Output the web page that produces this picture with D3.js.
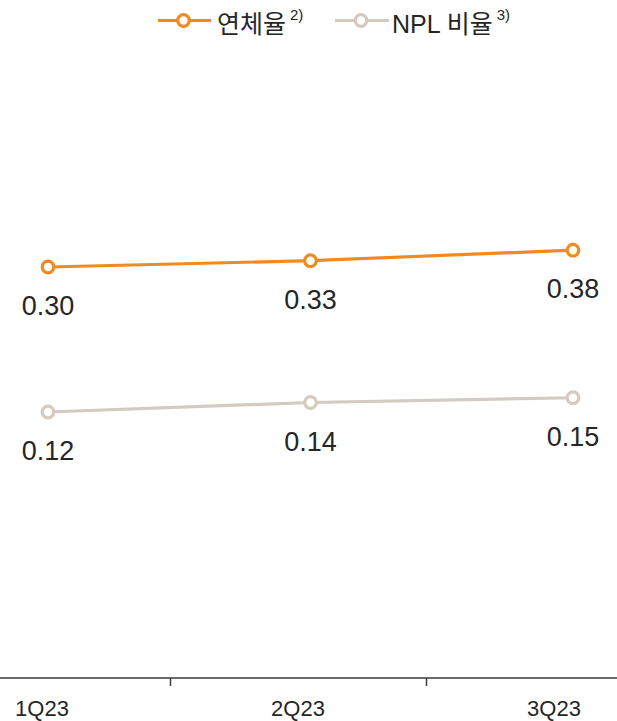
<!DOCTYPE html>
<html>
<head>
<meta charset="utf-8">
<script src="https://cdn.jsdelivr.net/npm/d3@7"></script>
<style>
  html, body { margin: 0; padding: 0; background: #fff; }
  svg { display: block; }
  .num { font-family: "Liberation Sans", Arial, Helvetica, sans-serif; }
  .kr { font-family: "Liberation Sans", "Noto Sans CJK KR", sans-serif; }
</style>
</head>
<body>
<svg id="chart" width="617" height="721"></svg>
<script>
// Quarters on the x axis
const quarters = ["1Q23", "2Q23", "3Q23"];
// Delinquency ratio (%)
const delinquency = [0.30, 0.33, 0.38];
// NPL ratio (%)
const nplRatio = [0.12, 0.14, 0.15];
// Legend entries
const seriesNames = ["연체율", "NPL 비율"];
const seriesNotes = ["2)", "3)"];
const seriesColors = ["#F08A23", "#D5CAC0"];

const W = 617, H = 721;
const svg = d3.select("#chart");

// Category scales: bands for the axis, points for the line vertices
const xBand = d3.scaleBand().domain(quarters).range([-86, 682]);
const xPoint = d3.scalePoint().domain(quarters).range([48, 573]);

// Each series is drawn on its own value scale
const yDelinq = d3.scaleLinear().domain([0.20, 0.50]).range([288, 225]);
const yNpl = d3.scaleLinear().domain([0.10, 0.20]).range([421.5, 374]);

// Bottom axis
const axisY = 678;
svg.append("line")
  .attr("x1", 0).attr("x2", W)
  .attr("y1", axisY).attr("y2", axisY)
  .attr("stroke", "#3a3a3a").attr("stroke-width", 1.5);

// Separators between quarter bands
quarters.slice(1).forEach(q => {
  const x = Math.round(xBand(q)) + 0.5;
  svg.append("line")
    .attr("x1", x).attr("x2", x)
    .attr("y1", axisY).attr("y2", axisY + 8)
    .attr("stroke", "#3a3a3a").attr("stroke-width", 1.5);
});

svg.append("g").selectAll("text")
  .data(quarters).join("text")
  .attr("class", "num")
  .attr("x", d => xBand(d) + xBand.bandwidth() / 2)
  .attr("y", 716)
  .attr("text-anchor", "middle")
  .attr("font-size", 22)
  .attr("fill", "#262626")
  .text(d => d);

// Series lines with hollow markers and value labels
const series = [
  { values: delinquency, y: yDelinq, color: seriesColors[0] },
  { values: nplRatio, y: yNpl, color: seriesColors[1] }
];

series.forEach(s => {
  const pts = quarters.map((q, i) => ({ q, v: s.values[i] }));
  const line = d3.line().x(d => xPoint(d.q)).y(d => s.y(d.v));
  const g = svg.append("g");
  g.append("path")
    .datum(pts)
    .attr("d", line)
    .attr("fill", "none")
    .attr("stroke", s.color)
    .attr("stroke-width", 3.2);
  g.selectAll("circle").data(pts).join("circle")
    .attr("cx", d => xPoint(d.q))
    .attr("cy", d => s.y(d.v))
    .attr("r", 5.8)
    .attr("fill", "#fff")
    .attr("stroke", s.color)
    .attr("stroke-width", 3.2);
  g.selectAll("text").data(pts).join("text")
    .attr("class", "num")
    .attr("x", d => xPoint(d.q))
    .attr("y", d => s.y(d.v) + 48)
    .attr("text-anchor", "middle")
    .attr("font-size", 27)
    .attr("fill", "#262626")
    .text(d => d.v.toFixed(2));
});

// Legend
const legend = [
  { x0: 158, x1: 211, tx: 217 },
  { x0: 335, x1: 389, tx: 392 }
];
const ly = 20.5;
legend.forEach((l, i) => {
  const g = svg.append("g");
  g.append("line")
    .attr("x1", l.x0).attr("x2", l.x1)
    .attr("y1", ly).attr("y2", ly)
    .attr("stroke", seriesColors[i]).attr("stroke-width", 3.2);
  g.append("circle")
    .attr("cx", (l.x0 + l.x1) / 2 - 1).attr("cy", ly)
    .attr("r", 5.8)
    .attr("fill", "#fff")
    .attr("stroke", seriesColors[i]).attr("stroke-width", 3.2);
  const t = g.append("text")
    .attr("class", "kr")
    .attr("x", l.tx).attr("y", 33)
    .attr("font-size", 25)
    .attr("fill", "#262626");
  t.append("tspan").text(seriesNames[i]);
  t.append("tspan")
    .attr("dx", 4).attr("dy", -13)
    .attr("font-size", 15)
    .text(seriesNotes[i]);
});
</script>
</body>
</html>
